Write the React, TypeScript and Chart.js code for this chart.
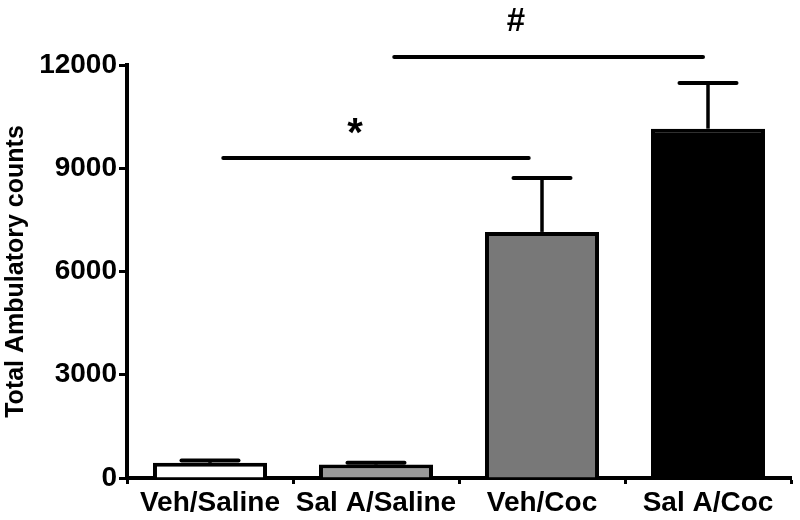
import React, { useEffect, useRef } from "react";
import { Chart, registerables } from "chart.js";

Chart.register(...registerables);

const categories = ["Veh/Saline", "Sal A/Saline", "Veh/Coc", "Sal A/Coc"];
const means = [440, 390, 7150, 10150];
const sems = [70, 50, 1570, 1330];
const barColors = ["#ffffff", "#9a9a9a", "#787878", "#000000"];
const yTicks = [0, 3000, 6000, 9000, 12000];
const yTitle = "Total Ambulatory counts";

// significance brackets: category-index span, height (counts)
const sigFrom = [0.08, 1.11];
const sigTo = [1.92, 2.97];
const sigLevel = [9300, 12230];
const sigText = ["*", "#"];
const sigTextX = [0.873, 1.843];
const sigTextY = [10240, 13330];
const sigFontSize = [40, 33];

const FONT = '"Liberation Sans", Arial, Helvetica, sans-serif';

const annotations = {
  id: "annotations",
  afterDatasetsDraw(chart: any) {
    const ctx = chart.ctx as CanvasRenderingContext2D;
    const xs = chart.scales.x;
    const ys = chart.scales.y;
    const meta = chart.getDatasetMeta(0);
    ctx.save();
    ctx.strokeStyle = "#000";
    meta.data.forEach((bar: any, i: number) => {
      const base = ys.getPixelForValue(means[i]);
      const top = ys.getPixelForValue(means[i] + sems[i]);
      const half = bar.width / 4;
      ctx.lineWidth = 3.5;
      ctx.lineCap = "butt";
      ctx.beginPath();
      ctx.moveTo(bar.x, base);
      ctx.lineTo(bar.x, top);
      ctx.stroke();
      ctx.lineCap = "round";
      ctx.lineWidth = 4;
      ctx.beginPath();
      ctx.moveTo(bar.x - half, top);
      ctx.lineTo(bar.x + half, top);
      ctx.stroke();
    });
    ctx.lineWidth = 4;
    ctx.lineCap = "round";
    for (let i = 0; i < sigLevel.length; i++) {
      const y = ys.getPixelForValue(sigLevel[i]);
      ctx.beginPath();
      ctx.moveTo(xs.getPixelForValue(sigFrom[i]), y);
      ctx.lineTo(xs.getPixelForValue(sigTo[i]), y);
      ctx.stroke();
      ctx.fillStyle = "#000";
      ctx.font = `bold ${sigFontSize[i]}px ${FONT}`;
      ctx.textAlign = "center";
      ctx.textBaseline = "alphabetic";
      const m = ctx.measureText(sigText[i]);
      const cy = ys.getPixelForValue(sigTextY[i]);
      const baseline = cy + (m.actualBoundingBoxAscent - m.actualBoundingBoxDescent) / 2;
      ctx.fillText(sigText[i], xs.getPixelForValue(sigTextX[i]), baseline);
    }
    ctx.restore();
  },
};

export default function App() {
  const ref = useRef<HTMLCanvasElement | null>(null);
  useEffect(() => {
    if (!ref.current) return;
    const chart = new Chart(ref.current, {
      type: "bar",
      data: {
        labels: categories,
        datasets: [
          {
            data: means,
            backgroundColor: barColors,
            borderColor: "#000",
            borderWidth: 4,
            barPercentage: 0.687,
            categoryPercentage: 1,
          },
        ],
      },
      options: {
        responsive: false,
        animation: false,
        layout: { padding: { top: 65, right: 9, left: 0, bottom: 0 } },
        plugins: { legend: { display: false }, tooltip: { enabled: false } },
        scales: {
          x: {
            afterFit: (s: any) => {
              s.height = 42;
            },
            grid: {
              display: true,
              drawOnChartArea: false,
              drawTicks: true,
              tickLength: 6,
              tickWidth: 3,
              tickColor: "#000",
            },
            border: { display: true, width: 4, color: "#000" },
            ticks: {
              color: "#000",
              padding: 2,
              maxRotation: 0,
              minRotation: 0,
              autoSkip: false,
              font: { family: FONT, size: 28, weight: "bold" },
            },
          },
          y: {
            min: 0,
            max: 12000,
            afterFit: (s: any) => {
              s.width = 127;
            },
            afterBuildTicks: (s: any) => {
              s.ticks = yTicks.map((v) => ({ value: v }));
            },
            grid: {
              display: true,
              drawOnChartArea: false,
              drawTicks: true,
              tickLength: 8,
              tickWidth: 3,
              tickColor: "#000",
            },
            border: { display: true, width: 4, color: "#000" },
            ticks: {
              color: "#000",
              padding: 2,
              callback: (v: any) => String(v),
              font: { family: FONT, size: 28, weight: "bold" },
            },
            title: {
              display: true,
              text: yTitle,
              color: "#000",
              padding: { top: 1, bottom: 0 },
              font: { family: FONT, size: 25, weight: "bold" },
            },
          },
        },
      },
      plugins: [annotations],
    });
    return () => chart.destroy();
  }, []);
  return (
    <div style={{ position: "fixed", left: 0, top: 0, width: 800, height: 520, background: "#fff" }}>
      <canvas ref={ref} width={800} height={520} />
    </div>
  );
}
